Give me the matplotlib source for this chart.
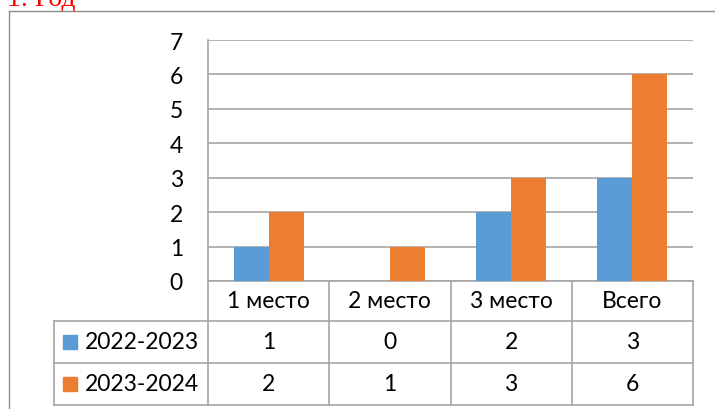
import matplotlib
matplotlib.use("Agg")
import matplotlib.pyplot as plt
import matplotlib.transforms as mtransforms
from matplotlib.patches import Rectangle
from matplotlib.lines import Line2D

categories = ["1 место", "2 место", "3 место", "Всего"]
series_names = ["2022-2023", "2023-2024"]
values_2022 = [1, 0, 2, 3]
values_2023 = [2, 1, 3, 6]
y_ticks = [0, 1, 2, 3, 4, 5, 6, 7]
title_text = "1. Год"

blue = "#5B9BD5"
orange = "#ED7D31"
grid_col = "#A6A6A6"
font = "Lato"
fs = 16.5

W, H = 715, 410
fig = plt.figure(figsize=(W / 100, H / 100), dpi=100)


def fx(px):
    return px / W


def fy(py):
    return 1 - py / H


# outer chart frame (runs off the right and bottom edges)
fig.add_artist(Line2D([fx(8.5), fx(8.5)], [fy(11.5), fy(412)], color="#8C8C8C", lw=1))
fig.add_artist(Line2D([fx(8.5), fx(716)], [fy(11.5), fy(11.5)], color="#8C8C8C", lw=1))

fig.text(fx(7), fy(5.5), title_text, color="red", fontsize=20,
         family="Liberation Serif", ha="left", va="baseline")

left, right, top, bottom = 208, 693, 41, 282
ax = fig.add_axes([fx(left), fy(bottom), fx(right - left), (bottom - top) / H])

n = len(categories)
xs = list(range(n))
bw = 35 / ((right - left) / n)
ax.bar([x - bw / 2 for x in xs], values_2022, bw, color=blue, zorder=3)
ax.bar([x + bw / 2 for x in xs], values_2023, bw, color=orange, zorder=3)

ax.set_xlim(-0.5, n - 0.5)
ax.set_ylim(0, 7)
ax.set_yticks(y_ticks)
ax.set_yticklabels([str(t) for t in y_ticks], fontsize=fs, family=font)
ax.tick_params(axis="y", length=0, pad=18)
ax.set_xticks([])
ax.yaxis.grid(True, color=grid_col, lw=1.2, zorder=0)
for s in ["top", "right", "bottom"]:
    ax.spines[s].set_visible(False)
ax.spines["left"].set_color(grid_col)
ax.spines["left"].set_linewidth(1.2)

# data table below the plot, tied to the category scale
tr = mtransforms.blended_transform_factory(ax.transData, ax.transAxes)
ph = bottom - top
rows_px = [282, 322, 364, 406]
ry = [(bottom - r) / ph for r in rows_px]
cw = (right - left) / n
leg_left = (54 - left) / cw - 0.5
edges = [x - 0.5 for x in xs] + [n - 0.5]

lk = dict(color=grid_col, lw=1.2, transform=tr, clip_on=False)
ax.add_line(Line2D([edges[0], edges[-1]], [ry[0], ry[0]], **lk))
for r in ry[1:]:
    ax.add_line(Line2D([leg_left, edges[-1]], [r, r], **lk))
ax.add_line(Line2D([leg_left, leg_left], [ry[1], ry[3]], **lk))
for e in edges:
    ax.add_line(Line2D([e, e], [ry[0], ry[3]], **lk))

for i, c in enumerate(categories):
    ax.text(xs[i], (ry[0] + ry[1]) / 2, c, transform=tr, ha="center", va="center",
            fontsize=fs, family=font)
    ax.text(xs[i], (ry[1] + ry[2]) / 2, str(values_2022[i]), transform=tr,
            ha="center", va="center", fontsize=fs, family=font)
    ax.text(xs[i], (ry[2] + ry[3]) / 2, str(values_2023[i]), transform=tr,
            ha="center", va="center", fontsize=fs, family=font)

sq = 14 / cw
sqh = 14 / ph
for k, (name, col) in enumerate(zip(series_names, [blue, orange])):
    yc = (ry[k + 1] + ry[k + 2]) / 2
    ax.add_patch(Rectangle((leg_left + 9 / cw, yc - sqh / 2), sq, sqh,
                           color=col, transform=tr, clip_on=False))
    ax.text(leg_left + 31 / cw, yc, name, transform=tr,
            ha="left", va="center", fontsize=fs, family=font)

fig.savefig("out.png", dpi=100)
